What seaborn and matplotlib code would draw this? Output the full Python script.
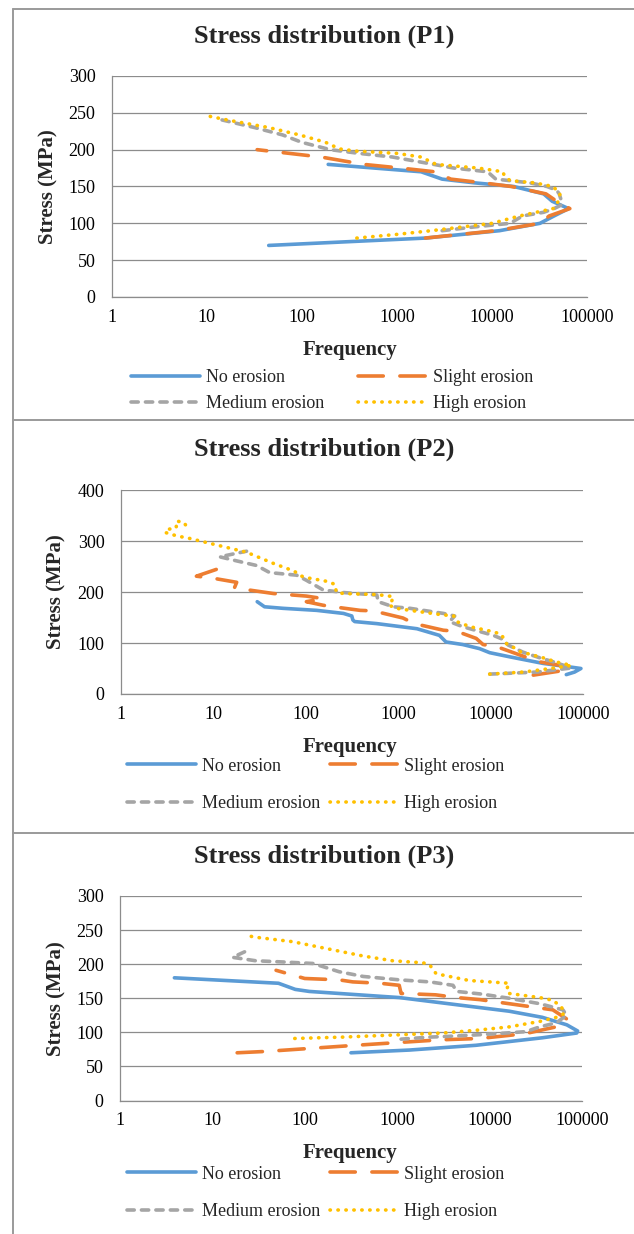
import matplotlib
matplotlib.use("Agg")
import numpy as np
import pandas as pd
import seaborn as sns
import matplotlib.pyplot as plt
from matplotlib.lines import Line2D
from matplotlib.ticker import NullLocator

# ---------------- data ----------------
series_names = ["No erosion", "Slight erosion", "Medium erosion", "High erosion"]
series_colors = ["#5B9BD5", "#ED7D31", "#A5A5A5", "#FFC000"]
panel_titles = ["Stress distribution (P1)", "Stress distribution (P2)", "Stress distribution (P3)"]
x_tick_values = [1, 10, 100, 1000, 10000, 100000]
x_tick_labels = ["1", "10", "100", "1000", "10000", "100000"]
p1_y_ticks = [0, 50, 100, 150, 200, 250, 300]
p2_y_ticks = [0, 100, 200, 300, 400]
p3_y_ticks = [0, 50, 100, 150, 200, 250, 300]

# P1
p1_none_stress = [70, 80, 90, 100, 110, 120, 130, 140, 150, 155, 160, 170, 180]
p1_none_freq = [45, 2000, 12000, 32000, 45000, 64000, 43000, 35000, 17000, 6500, 3000, 1800, 190]
p1_slight_stress = [80, 90, 100, 110, 120, 130, 140, 150, 155, 160, 170, 175, 180, 190, 200]
p1_slight_freq = [2000, 11000, 32000, 40000, 66000, 48000, 37000, 16000, 8000, 3700, 2500, 1100, 450, 160, 34]
p1_medium_stress = [90, 95, 100, 110, 115, 120, 125, 130, 140, 145, 150, 155, 160, 170, 175, 180,
                    190, 195, 200, 210, 220, 230, 242]
p1_medium_freq = [3000, 6400, 15500, 21000, 35000, 45000, 54000, 54000, 51000, 48000, 38000, 25000,
                  11000, 9000, 4000, 2450, 900, 400, 200, 100, 63, 32, 12.8]
p1_high_stress = [80, 85, 90, 100, 110, 120, 130, 140, 150, 155, 158, 165, 170, 175, 180, 190, 195,
                  198, 201, 210, 220, 230, 240, 245, 249]
p1_high_freq = [380, 1000, 2300, 10000, 19500, 44000, 50000, 52000, 44000, 28000, 15500, 13500, 13000,
                7200, 2600, 1800, 1000, 380, 250, 178, 95, 45, 17, 11, 9.4]

# P2
p2_none_stress = [38, 43, 50, 53, 60, 73, 81, 89, 97, 102, 115, 128, 138, 142, 145, 153, 158, 164,
                  168, 171, 181]
p2_none_freq = [66000, 81000, 95000, 72000, 37000, 16000, 9800, 7600, 5000, 3300, 2800, 1600, 590,
                340, 325, 316, 257, 132, 57, 36, 30]
p2_slight_stress = [37, 46, 53, 63, 73, 92, 97, 109, 123, 125, 138, 149, 163, 164, 172, 174, 181, 187,
                    192, 197, 208, 219, 227, 231, 250]
p2_slight_freq = [29000, 61000, 72000, 34000, 23500, 12000, 8300, 7000, 4300, 3100, 1500, 1130, 540,
                  390, 182, 155, 102, 155, 102, 45, 17, 18, 10, 6.6, 13.4]
p2_medium_stress = [39, 43, 51, 63, 71, 82, 96, 107, 115, 132, 142, 153, 158, 168, 171, 181, 194, 196,
                    199, 204, 223, 233, 238, 252, 261, 269, 280]
p2_medium_freq = [9800, 31500, 75000, 48000, 34000, 22500, 15500, 13700, 10700, 5000, 3600, 4100, 3100,
                  1350, 890, 610, 590, 420, 255, 155, 102, 80, 41, 29.5, 18, 11.8, 23]
p2_high_stress = [39, 43, 48, 56, 63, 71, 83, 92, 99, 117, 122, 132, 142, 153, 156, 164, 168, 174, 181,
                  191, 195, 197, 200, 215, 221, 227, 231, 241, 256, 278, 289, 297, 305, 308, 312, 317,
                  323, 326, 339, 337, 328, 331]
p2_high_freq = [9800, 22400, 37000, 75000, 51000, 37000, 21000, 17500, 14800, 13100, 10700, 6000, 4300,
                4000, 2800, 1350, 960, 800, 850, 890, 585, 255, 215, 208, 169, 111, 91, 75, 45, 23,
                12.9, 8.5, 5.6, 4.6, 3.7, 3.0, 3.3, 4.0, 4.0, 4.8, 5.2, 5.8]

# P3
p3_none_stress = [70, 74, 81, 92, 99, 102, 111, 122, 131, 140, 151, 160, 163, 172, 180]
p3_none_freq = [316, 1350, 7100, 37000, 87000, 89000, 68000, 37000, 16200, 4700, 1050, 112, 79, 52, 3.9]
p3_slight_stress = [70, 72, 81, 89, 91, 98, 108, 119, 133, 142, 148, 151, 155, 156, 157, 169, 172, 174,
                    177, 179, 191]
p3_slight_freq = [18.6, 38, 355, 2900, 7800, 24000, 52000, 69000, 48000, 16200, 7800, 4400, 2600, 1740,
                  1100, 1050, 650, 330, 235, 100, 49]
p3_medium_stress = [90, 93, 94, 96, 98, 101, 108, 114, 125, 133, 142, 150, 156, 160, 169, 174, 177, 182,
                    189, 201, 203, 205, 210, 220]
p3_medium_freq = [1100, 2240, 3400, 6600, 11700, 24500, 34700, 52500, 67600, 61700, 34700, 16200, 8300,
                  4400, 4000, 2240, 1050, 427, 234, 123, 63, 29.5, 16.6, 24]
p3_high_stress = [91, 93, 96, 99, 103, 108, 116, 122, 128, 138, 147, 151, 157, 162, 172, 174, 176, 186,
                  199, 202, 205, 212, 223, 233, 240, 244]
p3_high_freq = [78, 257, 890, 3100, 7100, 16200, 34700, 52500, 64600, 58900, 47900, 34700, 16200, 15100,
                16200, 10000, 6000, 2630, 2240, 1900, 890, 427, 170, 74, 27.5, 22.4]

# ---------------- style ----------------
sns.set_theme(style="white")
plt.rcParams["font.family"] = ["Liberation Serif", "DejaVu Serif"]

W, H = 634, 1234
fig = plt.figure(figsize=(W / 100, H / 100), dpi=100)


def fx(px):
    return px / W


def fy(py):
    return 1 - py / H


line_styles = ["-", (0, (7.0, 4.6)), (0, (2.0, 2.0)), (0, (0.1, 2.1))]
grid_col = "#8c8c8c"
LW = 2.6

panels = [
    dict(series=[(p1_none_freq, p1_none_stress), (p1_slight_freq, p1_slight_stress),
                 (p1_medium_freq, p1_medium_stress), (p1_high_freq, p1_high_stress)],
         yticks=p1_y_ticks, box=(111.5, 76, 587, 297), title_xy=(324, 45),
         xlab_y=350, ylab_x=48.5, leg=(131, 390.6), colsp=1.9, labsp=0.52),
    dict(series=[(p2_none_freq, p2_none_stress), (p2_slight_freq, p2_slight_stress),
                 (p2_medium_freq, p2_medium_stress), (p2_high_freq, p2_high_stress)],
         yticks=p2_y_ticks, box=(120.6, 490, 583, 694), title_xy=(324, 457.7),
         xlab_y=747, ylab_x=56.6, leg=(127, 784.8), colsp=0.55, labsp=1.12),
    dict(series=[(p3_none_freq, p3_none_stress), (p3_slight_freq, p3_slight_stress),
                 (p3_medium_freq, p3_medium_stress), (p3_high_freq, p3_high_stress)],
         yticks=p3_y_ticks, box=(119.7, 896, 582.3, 1100.5), title_xy=(324, 865),
         xlab_y=1152.7, ylab_x=56.6, leg=(127, 1192.8), colsp=0.55, labsp=1.12),
]

for i, pnl in enumerate(panels):
    x0, y0, x1, y1 = pnl["box"]
    ax = fig.add_axes([fx(x0), fy(y1), (x1 - x0) / W, (y1 - y0) / H])
    frames = []
    for name, (fr, st) in zip(series_names, pnl["series"]):
        frames.append(pd.DataFrame({"Frequency": fr, "Stress": st, "Series": name}))
    df = pd.concat(frames, ignore_index=True)

    for name, col, ls in zip(series_names, series_colors, line_styles):
        sub = df[df["Series"] == name]
        sns.lineplot(data=sub, x="Frequency", y="Stress", sort=False, estimator=None,
                     color=col, linewidth=LW, linestyle=ls, dash_capstyle="round",
                     solid_capstyle="round", solid_joinstyle="round", label=name,
                     legend=False, ax=ax)

    ax.set_xscale("log")
    ax.set_xlim(1, 100000)
    yt = pnl["yticks"]
    ax.set_ylim(yt[0], yt[-1])
    ax.set_xticks(x_tick_values, x_tick_labels)
    ax.set_yticks(yt, [str(v) for v in yt])
    ax.xaxis.set_minor_locator(NullLocator())
    ax.yaxis.set_minor_locator(NullLocator())
    ax.tick_params(axis="both", which="major", direction="out", length=3.6, width=0.9,
                   color=grid_col, labelsize=13, labelcolor="black")
    ax.tick_params(axis="x", pad=5)
    ax.tick_params(axis="y", pad=8)
    ax.grid(axis="y", color=grid_col, linewidth=0.9)
    ax.grid(axis="x", visible=False)
    ax.set_axisbelow(True)
    for s in ["top", "right"]:
        ax.spines[s].set_visible(False)
    for s in ["left", "bottom"]:
        ax.spines[s].set_color(grid_col)
        ax.spines[s].set_linewidth(0.9)
    ax.set_facecolor("none")

    # title and axis labels
    tx, ty = pnl["title_xy"]
    t = ax.set_title(panel_titles[i], fontsize=19, fontweight="bold", y=(y1 - ty) / (y1 - y0),
                     va="center")
    t.set_x((tx - x0) / (x1 - x0))
    ax.set_xlabel("Frequency", fontsize=15, fontweight="bold", va="center")
    ax.xaxis.set_label_coords((350 - x0) / (x1 - x0), (y1 - pnl["xlab_y"]) / (y1 - y0))
    ax.set_ylabel("Stress (MPa)", fontsize=15, fontweight="bold", va="center")
    ax.yaxis.set_label_coords((pnl["ylab_x"] - x0) / (x1 - x0), 0.5)

    # legend (row-wise order)
    hs = ax.get_lines()[:4]
    order = [0, 2, 1, 3]
    lx, ly = pnl["leg"]
    ax.legend([hs[k] for k in order], [series_names[k] for k in order], ncol=2,
              loc="center left", bbox_to_anchor=(fx(lx), fy(ly)), bbox_transform=fig.transFigure,
              frameon=False, borderpad=0, borderaxespad=0, handlelength=3.8, handletextpad=0.33,
              columnspacing=pnl["colsp"], labelspacing=pnl["labsp"], fontsize=13)

# panel frame lines
frame_col = "#9a9a9a"
for (xa, ya, xb, yb) in [(13, 8.5, 634, 8.5), (13, 8.5, 13, 1234), (13, 420.5, 634, 420.5),
                         (13, 832.5, 634, 832.5)]:
    fig.add_artist(Line2D([fx(xa), fx(xb)], [fy(ya), fy(yb)], transform=fig.transFigure,
                          color=frame_col, linewidth=1.4))

fig.savefig("out.png", dpi=100, facecolor="white")
